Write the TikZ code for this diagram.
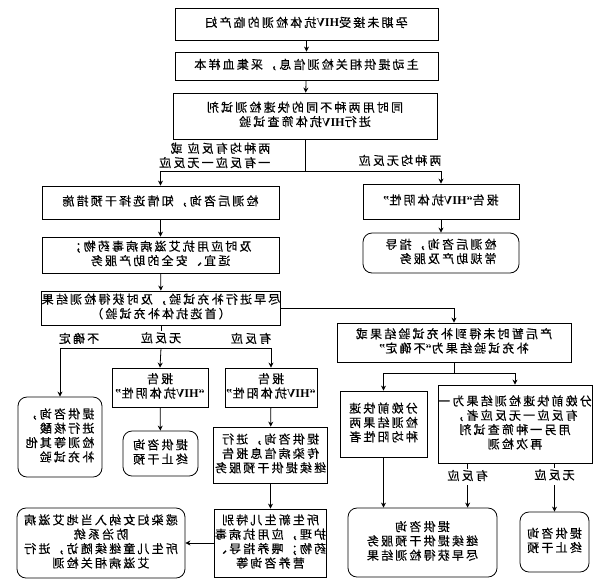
\documentclass[tikz,border=0pt]{standalone}
\usepackage{fontspec}
\setmainfont{Noto Sans CJK SC}[LetterSpace=18, FakeBold=0.4]
\newfontfamily\latfont{Liberation Serif}[BoldFont={* Bold}]
\usetikzlibrary{arrows.meta}

\newcommand{\mirtext}[2][c]{\reflectbox{\begin{tabular}{@{}#1@{}}#2\end{tabular}}}
\newcommand{\hiv}{{\latfont\bfseries HIV}}
\newcommand{\lquo}{{\latfont\bfseries “}}
\newcommand{\rquo}{{\latfont\bfseries ”}}

\begin{document}
\begin{tikzpicture} [x=1pt, y=-1pt, line width=0.8pt, font=\fontsize{12}{14}\selectfont,
  box/.style={draw, inner sep=0pt, align=center},
  rbox/.style={box, rounded corners=9pt},
  lbl/.style={fill=white, inner sep=1pt},
  arr/.style={-{Stealth[length=5pt, width=5pt]}}]

\useasboundingbox (0,0) rectangle (604,582);

\node (b1) [box, minimum width=263pt, minimum height=32pt] at (306.5,24) {\mirtext{孕期未接受\hiv 抗体检测的临产妇}};
\node (b2) [box, minimum width=263pt, minimum height=28pt] at (306.5,66) {\mirtext{主动提供相关检测信息，采集血样本}};
\node (b3) [box, minimum width=264pt, minimum height=46pt] at (305,116) {\mirtext{同时用两种不同的快速检测试剂\\进行\hiv 抗体筛查试验}};
\coordinate (j1) at (305,171);

\node (bL1) [box, minimum width=237pt, minimum height=33pt] at (160.5,202.5) {\mirtext{检测后咨询，知情选择干预措施}};
\node (bL2) [box, minimum width=237pt, minimum height=36pt] at (160.5,255) {\mirtext{及时应用抗艾滋病病毒药物；\\适宜、安全的助产服务}};
\node (bL3) [box, minimum width=238pt, minimum height=34pt] at (161,308) {\mirtext{尽早进行补充试验，及时获得检测结果\\（首选抗体补充试验）}};
\node (bR1) [box, minimum width=156pt, minimum height=35pt] at (441,201.5) {\mirtext{报告\lquo\hiv 抗体阴性\rquo}};
\node (bR2) [rbox, minimum width=156pt, minimum height=40pt] at (441,253) {\mirtext[l]{检测后咨询，指导\\常规助产及服务}};
\node (bR3) [box, minimum width=234pt, minimum height=39pt] at (454,342.5) {\mirtext{产后暂时未得到补充试验结果或\\补充试验结果为\lquo 不确定\rquo}};
\coordinate (j2) at (161,348);
\coordinate (j3) at (454,373);

\node (c1) [rbox, minimum width=84pt, minimum height=80pt] at (60,437) {\mirtext[l]{提供咨询，\\进行核酸\\检测等其他\\补充试验}};
\node (c2) [box, minimum width=96pt, minimum height=39pt] at (160,387.5) {\mirtext{报告\\\lquo\hiv 抗体阴性\rquo}};
\node (c3) [rbox, minimum width=75pt, minimum height=45pt] at (160.5,453.5) {\mirtext{提供咨询\\终止干预}};
\node (d1) [box, minimum width=92pt, minimum height=39pt] at (271,387.5) {\mirtext{报告\\\lquo\hiv 抗体阳性\rquo}};
\node (d2) [box, minimum width=114pt, minimum height=56pt] at (270.5,455) {\mirtext{提供咨询，进行\\传染病信息报告\\继续提供干预服务}};
\node (d3) [box, minimum width=112pt, minimum height=68pt] at (270.5,543) {\mirtext{所生新生儿特别\\护理，应用抗病毒\\药物；喂养指导、\\营养咨询等}};
\node (d4) [rbox, minimum width=168pt, minimum height=70pt] at (101,543) {\mirtext{感染妇女纳入当地艾滋病\\防治系统\\所生儿童继续随访，进行\\艾滋病相关检测}};
\node (e1) [box, minimum width=87pt, minimum height=66pt] at (383.5,424) {\mirtext{分娩前快速\\检测结果两\\种均阳性者}};
\node (e2) [box, minimum width=154pt, minimum height=78pt] at (515,424) {\mirtext{分娩前快速检测结果为一\\有反应一无反应者，\\用另一种筛查试剂\\再次检测}};
\node (e3) [rbox, minimum width=149pt, minimum height=69pt] at (422.5,542.5) {\mirtext{提供咨询\\继续提供干预服务\\尽早获得检测结果}};
\node (e4) [rbox, minimum width=69pt, minimum height=60pt] at (554.5,542) {\mirtext{提供咨询\\终止干预}};

% first screening
\path [arr]
    (b1) edge (b2)
    (b2) edge (b3);
\draw (b3.south) -- (j1);
\draw [arr] (j1) -| (bL1.north);
\draw [arr] (j1) -| (bR1.north);
\node (t1) [anchor=east] at (274,157) {\mirtext[l]{两种均有反应 或\\一有反应一无反应}};
\node (t2) at (400,162) {\mirtext{两种均无反应}};

\path [arr]
    (bL1) edge (bL2)
    (bL2) edge (bL3)
    (bR1) edge (bR2);

% supplementary test
\draw [arr] (bL3.east) -| (bR3.north);
\draw (bL3.south) -- node (t4) [lbl, pos=0.62] {\mirtext{无反应}} (j2);
\draw [arr] (j2) -| (c1.north);
\draw [arr] (j2) -| (d1.north);
\draw [arr] (j2) -- (c2.north);
\node (t3) at (251,340) {\mirtext{有反应}};
\node (t5) at (79,340) {\mirtext{不确定}};

\path [arr]
    (c2) edge (c3)
    (d1) edge (d2)
    (d2) edge (d3)
    (d3) edge (d4);

% no result after delivery
\draw (bR3.south) -- (j3);
\draw [arr] (j3) -| (e1.north);
\draw [arr] (j3) -| (e2.north);
\draw [arr] (e1.south) -- (e1.south |- e3.north);
\draw [arr] ([xshift=30pt]e2.south west) -- node (t6) [lbl, pos=0.31] {\mirtext{有反应}} ([xshift=30pt]e2.south west |- e3.north);
\draw [arr] (e4.north |- e2.south) -- node (t7) [lbl, pos=0.27] {\mirtext{无反应}} (e4.north);
\end{tikzpicture}
\end{document}
